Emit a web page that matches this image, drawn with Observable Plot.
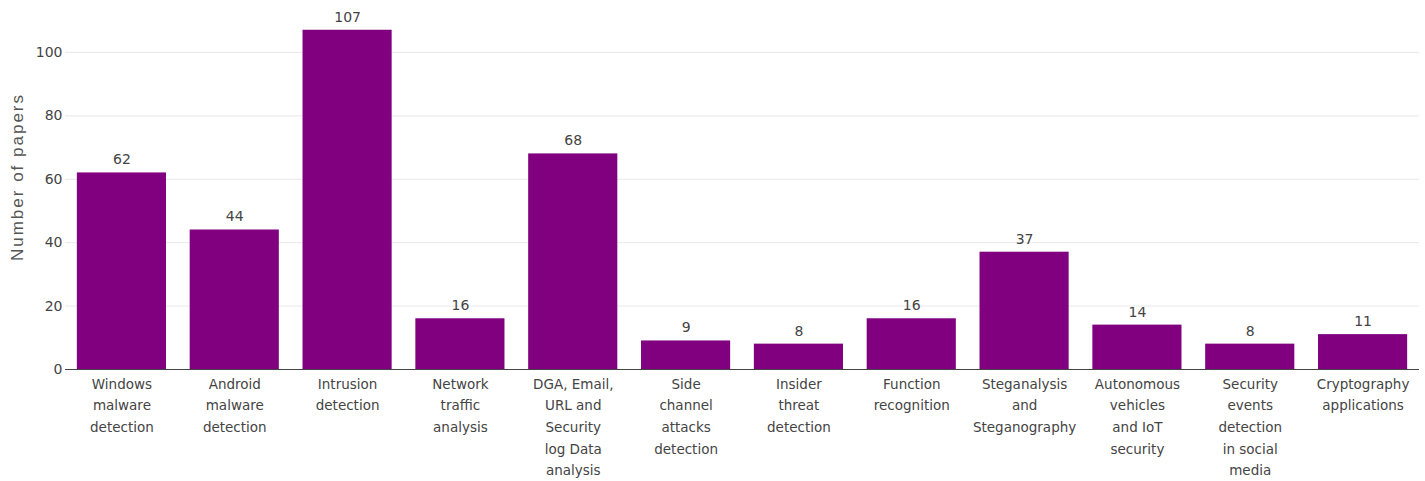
<!DOCTYPE html>
<html>
<head>
<meta charset="utf-8">
<script src="https://cdn.jsdelivr.net/npm/d3@7"></script>
<script src="https://cdn.jsdelivr.net/npm/@observablehq/plot@0.6"></script>
<style>
  html, body { margin: 0; padding: 0; background: #fff; }
  #chart { width: 1425px; height: 481px; }
</style>
</head>
<body>
<div id="chart"></div>
<script>
const categories = [
  "Windows\nmalware\ndetection",
  "Android\nmalware\ndetection",
  "Intrusion\ndetection",
  "Network\ntraffic\nanalysis",
  "DGA, Email,\nURL and\nSecurity\nlog Data\nanalysis",
  "Side\nchannel\nattacks\ndetection",
  "Insider\nthreat\ndetection",
  "Function\nrecognition",
  "Steganalysis\nand\nSteganography",
  "Autonomous\nvehicles\nand IoT\nsecurity",
  "Security\nevents\ndetection\nin social\nmedia",
  "Cryptography\napplications"
];
const papers = [62, 44, 107, 16, 68, 9, 8, 16, 37, 14, 8, 11];
const yTicks = [0, 20, 40, 60, 80, 100];
const yLabel = "Number of papers";

const data = categories.map((c, i) => ({category: c, value: papers[i]}));

const chart = Plot.plot({
  width: 1425,
  height: 481,
  marginTop: 12,
  marginBottom: 112,
  marginLeft: 65,
  marginRight: 6,
  style: {fontFamily: "DejaVu Sans, Verdana, sans-serif", fontSize: "13px", color: "#444", background: "#fff"},
  x: {domain: categories, paddingInner: 0.21, paddingOuter: 0.105, round: false, label: null},
  y: {domain: [0, 112.6], label: null, ticks: yTicks},
  marks: [
    Plot.gridY(yTicks, {stroke: "#e8e8e8", strokeOpacity: 1}),
    Plot.barY(data, {x: "category", y: "value", fill: "#800080"}),
    Plot.ruleY([0], {stroke: "#444", strokeWidth: 1.2}),
    Plot.text(data, {x: "category", y: "value", text: d => String(d.value), dy: -13, fill: "#444", fontSize: 14}),
    Plot.axisX({tickSize: 0, tickPadding: 4, fontSize: 13.5, lineHeight: 1.6, fill: "#444", label: null, textAnchor: "middle"}),
    Plot.axisY({ticks: yTicks, tickSize: 0, tickPadding: 3, fontSize: 14, fill: "#444", label: null}),
    Plot.text([yLabel], {frameAnchor: "left", textAnchor: "middle", dx: -48, dy: -14, rotate: -90, fontSize: 17, fontFamily: "Liberation Sans, Arial, sans-serif", fill: "#555", text: d => d, className: "ylabel"})
  ]
});
chart.querySelectorAll("text").forEach(t => {
  if (t.textContent === yLabel) t.setAttribute("letter-spacing", "2px");
});
document.getElementById("chart").appendChild(chart);
</script>
</body>
</html>
